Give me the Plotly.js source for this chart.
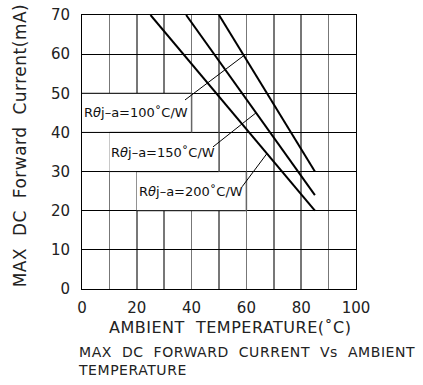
<!DOCTYPE html>
<html><head><meta charset="utf-8">
<script src="https://cdn.plot.ly/plotly-3.0.1.min.js"></script>
<style>
html,body{margin:0;padding:0;background:#fff;}
#chart{width:423px;height:385px;}
.annotation[data-index="3"] text{letter-spacing:0.55px;}
.annotation[data-index="4"] text{letter-spacing:0.5px;}
.annotation[data-index="5"] text{letter-spacing:0.5px;}
</style>
</head><body><div id="chart"></div>
<script>
// Curves: Rθj-a = 100, 150, 200 °C/W
const temp100 = [50, 85];
const curr100 = [70, 30];
const temp150 = [38, 85];
const curr150 = [70, 24];
const temp200 = [25, 85];
const curr200 = [70, 20];

// Leader lines from labels to curves
const lead100x = [37.6, 59];
const lead100y = [48.3, 59.6];
const lead150x = [47.8, 63.5];
const lead150y = [36.3, 45];
const lead200x = [58.4, 67.5];
const lead200y = [26.1, 34.6];

// Labels
const labelTexts = ['R<i>θ</i>j\u2013a=100\u02daC/W', 'R<i>θ</i>j\u2013a=150\u02daC/W', 'R<i>θ</i>j\u2013a=200\u02daC/W'];
const labelX = [0, 10, 20];
const labelY = [45, 35, 25];
const boxX0 = [0, 10, 20];
const boxX1 = [40, 50, 60];
const boxY0 = [40, 30, 20];
const boxY1 = [50, 40, 30];

const xTickVals = [0,10,20,30,40,50,60,70,80,90,100];
const xTickText = ['0','','20','','40','','60','','80','','100'];
const yTickVals = [0,10,20,30,40,50,60,70];
const yTickText = ['0','10','20','30','40','50','60','70'];

const xTitle = 'AMBIENT\u00a0 TEMPERATURE(\u02daC)';
const yTitle = 'MAX\u00a0 DC\u00a0 Forward\u00a0 Current(mA)';
const caption = 'MAX\u00a0 DC\u00a0 FORWARD\u00a0 CURRENT\u00a0 Vs\u00a0 AMBIENT<br>TEMPERATURE';

const font = 'DejaVu Sans, Liberation Sans, sans-serif';
const txt = '#222';
const thick = {color:'#000', width:2};
const thin = {color:'#000', width:1};

const traces = [
  {x:temp100, y:curr100, mode:'lines', line:thick, hoverinfo:'skip'},
  {x:temp150, y:curr150, mode:'lines', line:thick, hoverinfo:'skip'},
  {x:temp200, y:curr200, mode:'lines', line:thick, hoverinfo:'skip'},
  {x:lead100x, y:lead100y, mode:'lines', line:thin, hoverinfo:'skip'},
  {x:lead150x, y:lead150y, mode:'lines', line:thin, hoverinfo:'skip'},
  {x:lead200x, y:lead200y, mode:'lines', line:thin, hoverinfo:'skip'}
];

const shapes = boxX0.map((x0,i)=>({type:'rect', xref:'x', yref:'y', x0:x0, x1:boxX1[i], y0:boxY0[i], y1:boxY1[i],
  fillcolor:'#fff', line:{width:0}, layer:'between'}));
shapes.push(...boxX0.map((x0,i)=>({type:'line', xref:'x', yref:'y', x0:x0, x1:boxX1[i], y0:boxY0[i], y1:boxY0[i], line:{color:'#000', width:1}, layer:'between'})));
shapes.push(...boxX0.map((x0,i)=>({type:'line', xref:'x', yref:'y', x0:x0, x1:boxX1[i], y0:boxY1[i], y1:boxY1[i], line:{color:'#000', width:1}, layer:'between'})));
shapes.push(...boxX0.map((x0,i)=>({type:'line', xref:'x', yref:'y', x0:boxX1[i], x1:boxX1[i], y0:boxY0[i], y1:boxY1[i], line:{color:'#666', width:1.5}, layer:'between'})));

const annotations = labelTexts.map((t,i)=>({x:labelX[i], y:labelY[i], xref:'x', yref:'y', text:t, showarrow:false,
  xanchor:'left', yanchor:'middle', xshift:0, font:{family:font, size:13, color:'#111'}}));
annotations.push({xref:'paper', yref:'paper', x:-0.022, y:-0.195, xanchor:'left', yanchor:'top', align:'left',
  text:caption, showarrow:false, font:{family:font, size:14, color:txt}});
annotations.push({xref:'paper', yref:'paper', x:0.54, y:-0.139, xanchor:'center', yanchor:'middle',
  text:xTitle, showarrow:false, font:{family:font, size:16, color:txt}});
annotations.push({xref:'paper', yref:'paper', x:-0.226, y:0.522, xanchor:'center', yanchor:'middle', textangle:-90,
  text:yTitle, showarrow:false, font:{family:font, size:17, color:txt}});

const layout = {
  width:423, height:385,
  margin:{l:82, r:67, t:15, b:96},
  paper_bgcolor:'#fff', plot_bgcolor:'#fff',
  showlegend:false,
  font:{family:font, color:txt},
  xaxis:{range:[0,100], tickvals:xTickVals, ticktext:xTickText, showgrid:true, gridcolor:'#777', gridwidth:1.5,
    showline:true, linecolor:'#000', linewidth:1, mirror:true, zeroline:false, ticks:'', ticklabelstandoff:5,
    tickfont:{family:font, size:15, color:txt}, fixedrange:true},
  yaxis:{range:[0,70], tickvals:yTickVals, ticktext:yTickText, showgrid:true, gridcolor:'#000', gridwidth:1,
    showline:true, linecolor:'#000', linewidth:1, mirror:true, zeroline:false, ticks:'', ticklabelstandoff:8,
    tickfont:{family:font, size:15, color:txt}, fixedrange:true},
  shapes:shapes,
  annotations:annotations
};

Plotly.newPlot('chart', traces, layout, {staticPlot:true, displayModeBar:false});
</script>
</body></html>
